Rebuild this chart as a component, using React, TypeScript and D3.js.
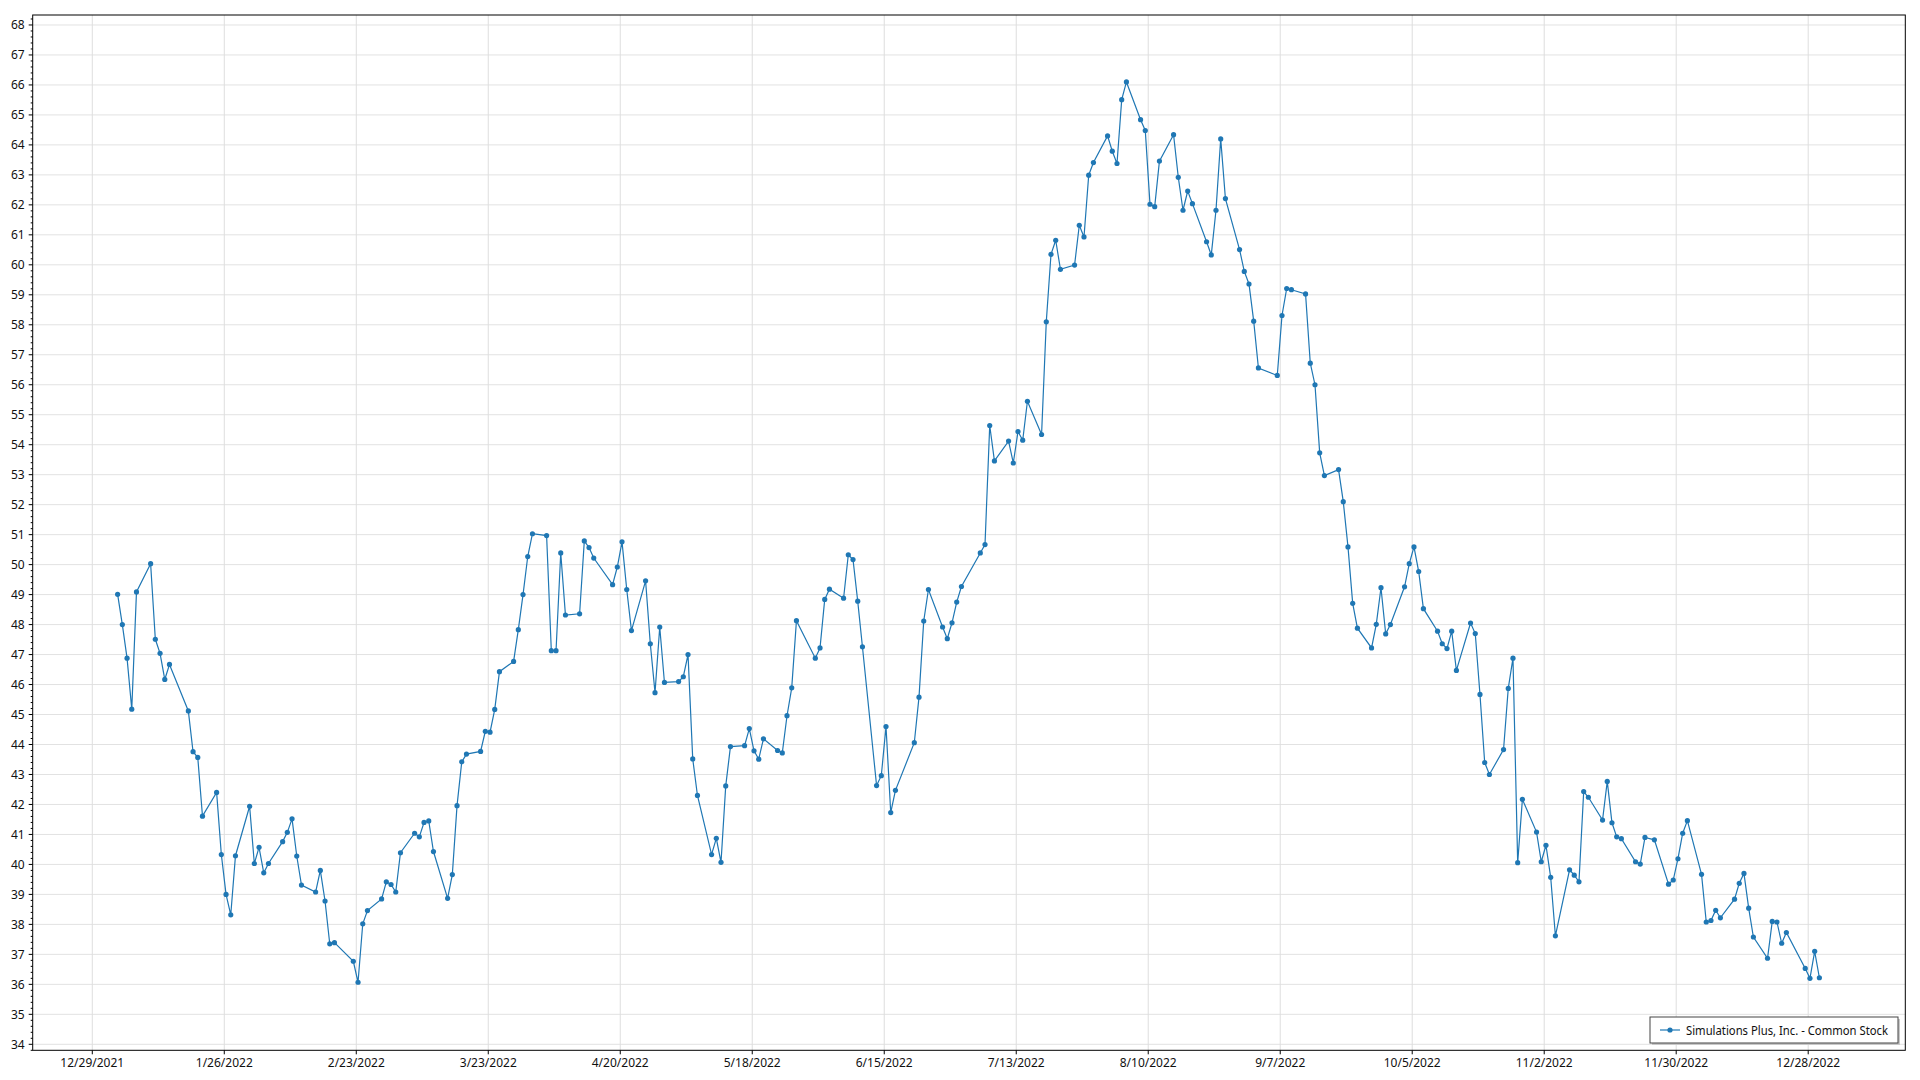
import React from "react";
import * as d3 from "d3";

const seriesName = "Simulations Plus, Inc. - Common Stock";

const xTickLabels = [
  "12/29/2021", "1/26/2022", "2/23/2022", "3/23/2022", "4/20/2022", "5/18/2022", "6/15/2022",
  "7/13/2022", "8/10/2022", "9/7/2022", "10/5/2022", "11/2/2022", "11/30/2022", "12/28/2022",
];
const yTickValues = [34, 35, 36, 37, 38, 39, 40, 41, 42, 43, 44, 45, 46, 47, 48, 49, 50, 51, 52, 53, 54, 55, 56, 57, 58, 59, 60, 61, 62, 63, 64, 65, 66, 67, 68];

// [day of month, closing price] per month of 2022
const jan: [number, number][] = [[3, 49.01], [4, 48.0], [5, 46.88], [6, 45.18], [7, 49.09], [10, 50.03], [11, 47.51], [12, 47.04], [13, 46.17], [14, 46.67], [18, 45.12], [19, 43.76], [20, 43.57], [21, 41.61], [24, 42.4], [25, 40.33], [26, 39.0], [27, 38.32], [28, 40.29], [31, 41.94]];
const feb: [number, number][] = [[1, 40.03], [2, 40.57], [3, 39.72], [4, 40.03], [7, 40.76], [8, 41.07], [9, 41.52], [10, 40.28], [11, 39.31], [14, 39.08], [15, 39.8], [16, 38.78], [17, 37.35], [18, 37.39], [22, 36.77], [23, 36.07], [24, 38.02], [25, 38.46], [28, 38.85]];
const mar: [number, number][] = [[1, 39.42], [2, 39.33], [3, 39.08], [4, 40.39], [7, 41.04], [8, 40.92], [9, 41.4], [10, 41.45], [11, 40.43], [14, 38.87], [15, 39.66], [16, 41.96], [17, 43.42], [18, 43.68], [21, 43.77], [22, 44.44], [23, 44.41], [24, 45.17], [25, 46.43], [28, 46.77], [29, 47.83], [30, 49.0], [31, 50.27]];
const apr: [number, number][] = [[1, 51.03], [4, 50.97], [5, 47.13], [6, 47.13], [7, 50.39], [8, 48.32], [11, 48.36], [12, 50.79], [13, 50.57], [14, 50.22], [18, 49.33], [19, 49.92], [20, 50.76], [21, 49.17], [22, 47.8], [25, 49.46], [26, 47.36], [27, 45.73], [28, 47.92], [29, 46.07]];
const may: [number, number][] = [[2, 46.1], [3, 46.26], [4, 47.0], [5, 43.52], [6, 42.3], [9, 40.33], [10, 40.87], [11, 40.07], [12, 42.62], [13, 43.93], [16, 43.96], [17, 44.53], [18, 43.79], [19, 43.51], [20, 44.19], [23, 43.8], [24, 43.72], [25, 44.96], [26, 45.89], [27, 48.13], [31, 46.88]];
const jun: [number, number][] = [[1, 47.22], [2, 48.84], [3, 49.18], [6, 48.88], [7, 50.33], [8, 50.17], [9, 48.78], [10, 47.26], [13, 42.63], [14, 42.96], [15, 44.6], [16, 41.73], [17, 42.47], [21, 44.06], [22, 45.58], [23, 48.12], [24, 49.17], [27, 47.92], [28, 47.53], [29, 48.06], [30, 48.75]];
const jul: [number, number][] = [[1, 49.27], [5, 50.39], [6, 50.67], [7, 54.64], [8, 53.46], [11, 54.12], [12, 53.39], [13, 54.44], [14, 54.15], [15, 55.45], [18, 54.34], [19, 58.1], [20, 60.35], [21, 60.82], [22, 59.85], [25, 59.99], [26, 61.32], [27, 60.93], [28, 62.99], [29, 63.41]];
const aug: [number, number][] = [[1, 64.3], [2, 63.79], [3, 63.38], [4, 65.51], [5, 66.1], [8, 64.84], [9, 64.48], [10, 62.02], [11, 61.94], [12, 63.46], [15, 64.34], [16, 62.92], [17, 61.82], [18, 62.46], [19, 62.04], [22, 60.77], [23, 60.33], [24, 61.82], [25, 64.2], [26, 62.21], [29, 60.51], [30, 59.78], [31, 59.36]];
const sep: [number, number][] = [[1, 58.12], [2, 56.56], [6, 56.31], [7, 58.31], [8, 59.21], [9, 59.17], [12, 59.03], [13, 56.72], [14, 56.0], [15, 53.73], [16, 52.97], [19, 53.17], [20, 52.1], [21, 50.59], [22, 48.71], [23, 47.88], [26, 47.22], [27, 48.01], [28, 49.23], [29, 47.69], [30, 48.0]];
const oct: [number, number][] = [[3, 49.26], [4, 50.03], [5, 50.59], [6, 49.77], [7, 48.53], [10, 47.78], [11, 47.36], [12, 47.2], [13, 47.78], [14, 46.47], [17, 48.05], [18, 47.7], [19, 45.67], [20, 43.4], [21, 43.0], [24, 43.83], [25, 45.87], [26, 46.88], [27, 40.06], [28, 42.17], [31, 41.08]];
const nov: [number, number][] = [[1, 40.09], [2, 40.64], [3, 39.57], [4, 37.62], [7, 39.82], [8, 39.64], [9, 39.42], [10, 42.43], [11, 42.24], [14, 41.48], [15, 42.77], [16, 41.39], [17, 40.92], [18, 40.86], [21, 40.09], [22, 40.01], [23, 40.9], [25, 40.82], [28, 39.34], [29, 39.48], [30, 40.19]];
const dec: [number, number][] = [[1, 41.04], [2, 41.46], [5, 39.67], [6, 38.08], [7, 38.13], [8, 38.47], [9, 38.22], [12, 38.84], [13, 39.37], [14, 39.7], [15, 38.54], [16, 37.58], [19, 36.87], [20, 38.1], [21, 38.08], [22, 37.37], [23, 37.73], [27, 36.53], [28, 36.2], [29, 37.1], [30, 36.22]];

const months = [jan, feb, mar, apr, may, jun, jul, aug, sep, oct, nov, dec];

const W = 1920;
const H = 1080;
const left = 32.7;
const right = 1905.3;
const top = 15;
const bottom = 1050.3;
const color = "#1f77b4";
const font = "'Segoe UI', 'Noto Sans', 'Open Sans', sans-serif";

function parseLabel(s: string): Date {
  const [m, d, y] = s.split("/").map(Number);
  return new Date(Date.UTC(y, m - 1, d));
}

export default function App() {
  const points = months.flatMap((arr, mi) =>
    arr.map(([d, v]) => ({ date: new Date(Date.UTC(2022, mi, d, 9)), value: v }))
  );
  const tickDates = xTickLabels.map(parseLabel);
  const t0 = tickDates[0].getTime();
  const dayMs = 86400000;
  const x = d3
    .scaleUtc()
    .domain([new Date(t0 - 12.64 * dayMs), new Date(t0 + 384.6 * dayMs)])
    .range([left, right]);
  const y = d3.scaleLinear().domain([33.8, 68.333]).range([bottom, top]);

  const line = d3
    .line<{ date: Date; value: number }>()
    .x((d) => x(d.date))
    .y((d) => y(d.value));

  const minor: number[] = [];
  for (let k = 169; k <= 341; k++) {
    if (k % 5 !== 0) minor.push(k / 5);
  }

  return (
    <div style={{ position: "absolute", left: 0, top: 0 }}>
      <svg width={W} height={H} style={{ display: "block", background: "#fff" }}>
        {/* grid */}
        {yTickValues.map((v) => (
          <line key={"gy" + v} x1={left} x2={right} y1={y(v)} y2={y(v)} stroke="#e2e2e2" strokeWidth={1} />
        ))}
        {tickDates.map((d, i) => (
          <line key={"gx" + i} x1={x(d)} x2={x(d)} y1={top} y2={bottom} stroke="#dedede" strokeWidth={1} />
        ))}
        {/* series */}
        <path d={line(points) || ""} fill="none" stroke={color} strokeWidth={1.2} />
        {points.map((p, i) => (
          <circle key={"p" + i} cx={x(p.date)} cy={y(p.value)} r={2.6} fill={color} />
        ))}
        {/* frame */}
        <rect x={left} y={top} width={right - left} height={bottom - top} fill="none" stroke="#000" strokeWidth={1} />
        {/* y axis ticks */}
        {yTickValues.map((v) => (
          <g key={"yt" + v}>
            <line x1={left - 4} x2={left} y1={y(v)} y2={y(v)} stroke="#000" strokeWidth={1} />
            <text x={left - 8} y={y(v)} textAnchor="end" dominantBaseline="central" fontFamily={font} fontSize={12} fill="#111">
              {v}
            </text>
          </g>
        ))}
        {minor.map((v, i) => (
          <line key={"ym" + i} x1={left - 2} x2={left} y1={y(v)} y2={y(v)} stroke="#000" strokeWidth={1} />
        ))}
        {/* x axis ticks */}
        {tickDates.map((d, i) => (
          <g key={"xt" + i}>
            <line x1={x(d)} x2={x(d)} y1={bottom} y2={bottom + 4} stroke="#000" strokeWidth={1} />
            <text x={x(d)} y={bottom + 16.5} textAnchor="middle" fontFamily={font} fontSize={12} fill="#111">
              {xTickLabels[i]}
            </text>
          </g>
        ))}
        {/* legend */}
        <rect x={1652} y={1019} width={248} height={26} fill="#c8c8c8" />
        <rect x={1650} y={1017} width={248} height={26} fill="#fff" stroke="#444" strokeWidth={1} />
        <line x1={1660} x2={1680} y1={1030} y2={1030} stroke={color} strokeWidth={1.2} />
        <circle cx={1670} cy={1030} r={2.6} fill={color} />
        <text
          x={1686}
          y={1030}
          dominantBaseline="central"
          fontFamily={font}
          fontSize={12}
          fill="#111"
          textLength={202}
          lengthAdjust="spacingAndGlyphs"
        >
          {seriesName}
        </text>
      </svg>
    </div>
  );
}
